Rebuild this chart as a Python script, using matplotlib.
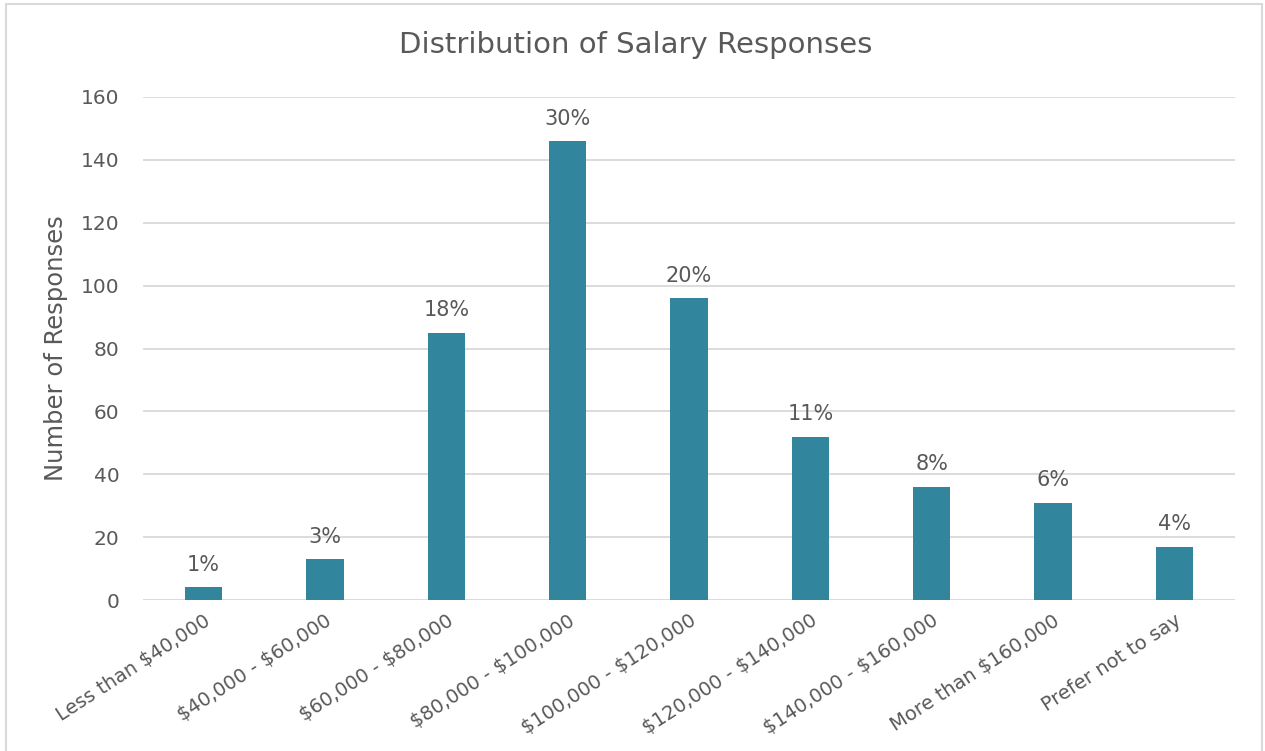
import matplotlib
matplotlib.use("Agg")
import matplotlib.pyplot as plt
from matplotlib.patches import Rectangle

categories = ["Less than $40,000", "$40,000 - $60,000", "$60,000 - $80,000",
              "$80,000 - $100,000", "$100,000 - $120,000", "$120,000 - $140,000",
              "$140,000 - $160,000", "More than $160,000", "Prefer not to say"]
counts = [4, 13, 85, 146, 96, 52, 36, 31, 17]
pct_labels = ["1%", "3%", "18%", "30%", "20%", "11%", "8%", "6%", "4%"]
yticks = [0, 20, 40, 60, 80, 100, 120, 140, 160]

plt.rcParams['font.family'] = ['DejaVu Sans']
plt.rcParams['text.parse_math'] = False
txt = '#595959'
W, H = 1265, 751
fig = plt.figure(figsize=(W/100, H/100), dpi=100)
fig.patches.append(Rectangle((6/W, -0.01), (1262-6)/W, 1 - 4/H + 0.01, transform=fig.transFigure,
                             fill=False, edgecolor='#D9D9D9', linewidth=1.5))
ax = fig.add_axes([143/W, 1-600/H, (1235-143)/W, (600-97)/H])
x = list(range(len(categories)))
ax.bar(x, counts, width=0.31, color='#31859C', zorder=3)
ax.set_xlim(-0.5, len(categories)-0.5)
ax.set_ylim(0, 160)
ax.set_yticks(yticks)
ax.yaxis.grid(True, color='#D9D9D9', linewidth=1.3, zorder=0)
for s in ax.spines.values():
    s.set_visible(False)
ax.tick_params(length=0, colors=txt, labelsize=14.5)
ax.tick_params(axis='y', pad=17)
ax.tick_params(axis='x', pad=8)
ax.set_xticks(x)
ax.set_xticklabels(categories, rotation=33, ha='right', rotation_mode='anchor', fontsize=14, color=txt)
for i, (c, l) in enumerate(zip(counts, pct_labels)):
    ax.annotate(l, (i, c), xytext=(0, 9), textcoords='offset points', ha='center', va='bottom',
                fontsize=15, color=txt)
ax.set_ylabel("Number of Responses", fontsize=17.5, color=txt, labelpad=9)
fig.text(636/W, 1-45/H, "Distribution of Salary Responses", ha='center', va='center', fontsize=21, color=txt)
fig.savefig("out.png", dpi=100)
